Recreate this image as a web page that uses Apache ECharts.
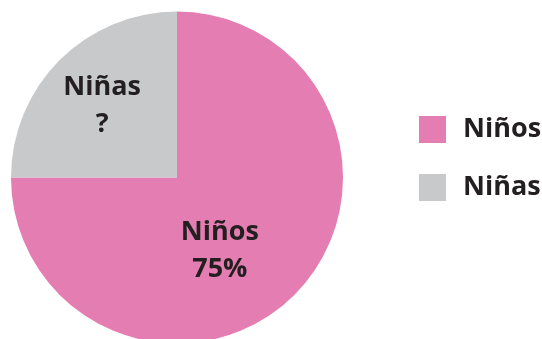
<!DOCTYPE html>
<html>
<head>
<meta charset="utf-8">
<script src="https://cdn.jsdelivr.net/npm/echarts@6/dist/echarts.min.js"></script>
<style>
  html, body { margin: 0; padding: 0; background: #ffffff; }
  #chart { width: 542px; height: 339px; }
</style>
</head>
<body>
<div id="chart"></div>
<script>
// Share of boys and girls
const categories = ['Niños', 'Niñas'];
const shares = [75, 25];
const sliceLabels = ['{b}\n{d}%', '{b}\n?'];
const sliceColors = ['#e47db1', '#c8c9cb'];
const labelOffsets = [[-18, 13], [-14, -11]];

const chart = echarts.init(document.getElementById('chart'), null, { renderer: 'canvas' });

const textColor = '#231f20';
const fontFamily = '"Open Sans", "DejaVu Sans", sans-serif';

chart.setOption({
  animation: false,
  backgroundColor: '#ffffff',
  legend: {
    orient: 'vertical',
    left: 419,
    top: 116,
    padding: 0,
    icon: 'rect',
    itemWidth: 27,
    itemHeight: 27,
    itemGap: 31,
    selectedMode: false,
    data: categories,
    textStyle: {
      color: textColor,
      fontFamily: fontFamily,
      fontWeight: 'bold',
      fontSize: 27,
      padding: [0, 0, 0, 12]
    }
  },
  series: [{
    type: 'pie',
    center: [177, 177.5],
    radius: 166,
    startAngle: 90,
    clockwise: true,
    silent: true,
    labelLine: { show: false },
    itemStyle: { borderWidth: 0 },
    label: {
      position: 'inside',
      color: textColor,
      fontFamily: fontFamily,
      fontWeight: 'bold',
      fontSize: 27,
      lineHeight: 37,
      align: 'center'
    },
    data: categories.map((name, i) => ({
      name: name,
      value: shares[i],
      itemStyle: { color: sliceColors[i] },
      label: { formatter: sliceLabels[i], offset: labelOffsets[i] }
    }))
  }]
});
</script>
</body>
</html>
